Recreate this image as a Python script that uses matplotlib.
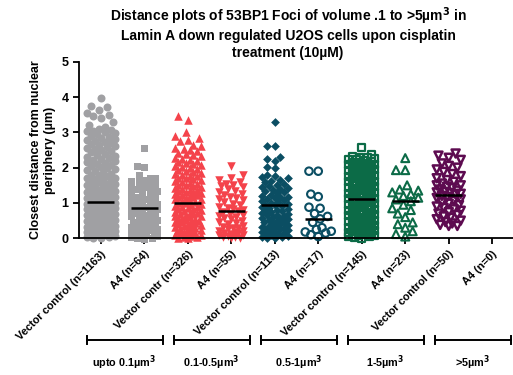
import matplotlib
matplotlib.use("Agg")
import matplotlib.pyplot as plt
import matplotlib.transforms as mtransforms
import numpy as np

plt.rcParams['font.family'] = ['Liberation Sans', 'DejaVu Sans']
plt.rcParams['font.weight'] = 'bold'

# closest distance to the nuclear periphery (um), one list per column
gray_vc = [0.0, 0.02, 0.04, 0.05, 0.07, 0.08, 0.1, 0.12, 0.13, 0.15, 0.17, 0.18, 0.2, 0.22,
           0.24, 0.26, 0.28, 0.3, 0.32, 0.33, 0.35, 0.37, 0.4, 0.42, 0.44, 0.45, 0.48, 0.5,
           0.52, 0.54, 0.55, 0.58, 0.6, 0.62, 0.64, 0.66, 0.68, 0.7, 0.72, 0.74, 0.75, 0.78,
           0.8, 0.83, 0.85, 0.86, 0.88, 0.9, 0.93, 0.95, 0.96, 0.98, 1.0, 1.03, 1.05, 1.06,
           1.08, 1.1, 1.13, 1.15, 1.17, 1.2, 1.22, 1.24, 1.26, 1.28, 1.3, 1.32, 1.34, 1.36,
           1.38, 1.4, 1.43, 1.45, 1.48, 1.5, 1.53, 1.55, 1.58, 1.6, 1.62, 1.65, 1.68, 1.7,
           1.72, 1.75, 1.78, 1.8, 1.83, 1.86, 1.9, 1.92, 1.95, 1.98, 2.01, 2.04, 2.07, 2.1,
           2.13, 2.16, 2.19, 2.22, 2.25, 2.28, 2.31, 2.34, 2.37, 2.4, 2.43, 2.46, 2.49, 2.52,
           2.55, 2.58, 2.61, 2.64, 2.67, 2.7, 2.73, 2.76, 2.79, 2.82, 2.85, 2.88, 2.91, 2.94,
           2.97, 3.0, 3.03, 3.05, 3.08, 3.1, 3.15, 3.2, 3.3, 3.4, 3.45, 3.5, 3.55, 3.62,
           3.72, 3.75, 3.97]
gray_a4 = [2.55, 2.05, 2.02, 1.8, 1.72, 1.7, 1.65, 1.62, 1.6, 1.55, 1.5, 1.45, 1.42, 1.4,
           1.38, 1.33, 1.3, 1.25, 1.2, 1.18, 1.15, 1.12, 1.08, 1.05, 1.0, 0.98, 0.95, 0.92,
           0.9, 0.88, 0.86, 0.84, 0.8, 0.78, 0.75, 0.72, 0.7, 0.66, 0.62, 0.6, 0.56, 0.52,
           0.5, 0.46, 0.42, 0.4, 0.36, 0.35, 0.33, 0.3, 0.27, 0.25, 0.24, 0.2, 0.18, 0.15,
           0.12, 0.1, 0.08, 0.06, 0.04, 0.02, 0.0, -0.03]
red_vc = [0.0, 0.02, 0.04, 0.05, 0.07, 0.08, 0.1, 0.12, 0.14, 0.16, 0.17, 0.2, 0.22, 0.24,
          0.26, 0.27, 0.3, 0.32, 0.34, 0.36, 0.38, 0.4, 0.41, 0.43, 0.45, 0.47, 0.48, 0.5,
          0.52, 0.54, 0.55, 0.57, 0.59, 0.62, 0.64, 0.66, 0.68, 0.7, 0.72, 0.73, 0.75, 0.77,
          0.8, 0.82, 0.84, 0.86, 0.88, 0.9, 0.92, 0.95, 0.97, 0.99, 1.01, 1.03, 1.05, 1.07,
          1.1, 1.12, 1.14, 1.16, 1.18, 1.2, 1.22, 1.24, 1.26, 1.28, 1.3, 1.32, 1.34, 1.36,
          1.38, 1.4, 1.43, 1.46, 1.48, 1.5, 1.52, 1.55, 1.57, 1.6, 1.62, 1.65, 1.67, 1.7,
          1.72, 1.75, 1.77, 1.8, 1.82, 1.85, 1.88, 1.9, 1.93, 1.96, 1.98, 2.01, 2.04, 2.07,
          2.1, 2.13, 2.16, 2.19, 2.22, 2.25, 2.28, 2.32, 2.35, 2.38, 2.42, 2.46, 2.5, 2.54,
          2.57, 2.62, 2.65, 2.75, 2.78, 2.85, 2.9, 3.02, 3.35, 3.45]
red_a4 = [2.05, 1.8, 1.72, 1.65, 1.6, 1.55, 1.5, 1.48, 1.45, 1.4, 1.35, 1.3, 1.25, 1.22,
          1.18, 1.15, 1.12, 1.08, 1.02, 0.98, 0.95, 0.9, 0.86, 0.82, 0.8, 0.78, 0.75, 0.7,
          0.66, 0.62, 0.6, 0.58, 0.55, 0.5, 0.46, 0.42, 0.4, 0.36, 0.32, 0.3, 0.28, 0.25,
          0.22, 0.2, 0.18, 0.15, 0.14, 0.12, 0.1, 0.08, 0.06, 0.05, 0.04, 0.02, 0.0]
teal_vc = [0.0, 0.02, 0.04, 0.05, 0.07, 0.09, 0.11, 0.13, 0.15, 0.17, 0.19, 0.21, 0.23, 0.25,
           0.27, 0.28, 0.3, 0.32, 0.34, 0.36, 0.38, 0.4, 0.43, 0.45, 0.47, 0.49, 0.52, 0.54,
           0.56, 0.58, 0.6, 0.63, 0.65, 0.67, 0.7, 0.72, 0.74, 0.76, 0.79, 0.81, 0.84, 0.86,
           0.88, 0.91, 0.93, 0.95, 0.98, 1.0, 1.03, 1.05, 1.08, 1.1, 1.13, 1.16, 1.18, 1.21,
           1.24, 1.27, 1.3, 1.33, 1.36, 1.39, 1.42, 1.45, 1.48, 1.52, 1.55, 1.58, 1.62, 1.66,
           1.7, 1.73, 1.76, 1.8, 1.99, 2.02, 2.2, 2.25, 2.3, 2.61, 2.62, 3.29]
teal_a4 = [1.9, 1.9, 1.25, 1.18, 0.88, 0.85, 0.7, 0.62, 0.55, 0.45, 0.3, 0.25, 0.2, 0.18,
           0.15, 0.1, 0.05]
green_vc = [0.0, 0.02, 0.04, 0.05, 0.07, 0.08, 0.1, 0.12, 0.14, 0.15, 0.17, 0.19, 0.21, 0.22,
            0.24, 0.26, 0.28, 0.3, 0.31, 0.33, 0.35, 0.37, 0.39, 0.41, 0.43, 0.45, 0.47,
            0.48, 0.5, 0.52, 0.54, 0.56, 0.58, 0.6, 0.62, 0.64, 0.66, 0.68, 0.7, 0.72, 0.74,
            0.76, 0.78, 0.8, 0.82, 0.84, 0.86, 0.88, 0.9, 0.92, 0.94, 0.96, 0.98, 1.0, 1.02,
            1.04, 1.06, 1.08, 1.1, 1.12, 1.14, 1.16, 1.18, 1.2, 1.22, 1.24, 1.26, 1.28, 1.3,
            1.32, 1.34, 1.36, 1.38, 1.4, 1.42, 1.44, 1.46, 1.48, 1.5, 1.52, 1.54, 1.56, 1.58,
            1.6, 1.62, 1.64, 1.66, 1.68, 1.7, 1.72, 1.74, 1.76, 1.78, 1.8, 1.82, 1.84, 1.86,
            1.88, 1.9, 1.92, 1.94, 1.96, 1.98, 2.0, 2.02, 2.04, 2.06, 2.08, 2.1, 2.12, 2.14,
            2.16, 2.18, 2.2, 2.22, 2.24, 2.26, 2.28, 2.3, 2.32, 2.36, 2.57]
green_a4 = [2.27, 1.93, 1.93, 1.5, 1.38, 1.35, 1.3, 1.25, 1.2, 1.15, 1.1, 1.05, 0.95, 0.85,
            0.8, 0.7, 0.6, 0.45, 0.4, 0.3, 0.2, 0.12, 0.05]
purple_vc = [2.4, 2.34, 2.28, 2.22, 2.12, 2.05, 2.0, 1.95, 1.88, 1.82, 1.76, 1.7, 1.65, 1.6,
             1.55, 1.5, 1.5, 1.46, 1.42, 1.38, 1.35, 1.31, 1.3, 1.28, 1.26, 1.24, 1.2, 1.17,
             1.14, 1.1, 1.06, 1.02, 0.98, 0.94, 0.9, 0.86, 0.82, 0.78, 0.74, 0.7, 0.66, 0.62,
             0.58, 0.54, 0.5, 0.46, 0.42, 0.38, 0.35, 0.35]
purple_a4 = []

columns = [gray_vc, gray_a4, red_vc, red_a4, teal_vc, teal_a4,
           green_vc, green_a4, purple_vc, purple_a4]
centres = [1.04, 0.86, 1.0, 0.78, 0.93, 0.56, 1.12, 1.07, 1.24, None]
tick_labels = ['Vector control (n=1163)', 'A4 (n=64)', 'Vector contr (n=326)', 'A4 (n=55)',
               'Vector control (n=113)', 'A4 (n=17)', 'Vector control (n=145)', 'A4 (n=23)',
               'Vector control (n=50)', 'A4 (n=0)']
group_labels = ['upto 0.1\u00b5m$^3$', '0.1-0.5\u00b5m$^3$', '0.5-1\u00b5m$^3$',
                '1-5\u00b5m$^3$', '>5\u00b5m$^3$']

gray, red, teal, green, purple = '#A0A0A3', '#F4434B', '#0B4E63', '#0C6B47', '#5D0B50'
# (colour, marker, size in px, hollow, half width of the column in px)
styles = [(gray, 'o', 8.0, False, 14), (gray, 's', 7.0, False, 13),
          (red, '^', 8.5, False, 13), (red, 'v', 8.5, False, 12),
          (teal, 'D', 6.2, False, 13), (teal, 'o', 7.5, True, 13),
          (green, 's', 7.0, True, 13), (green, '^', 8.0, True, 13),
          (purple, 'v', 8.0, True, 12), (purple, 'v', 8.0, True, 12)]
edge_lw = {'o': 1.5, 's': 1.6, '^': 1.5, 'v': 1.8}

fig = plt.figure(figsize=(5.13, 3.75), dpi=100)
ax = fig.add_axes([79 / 513, 136.7 / 375, 435 / 513, 176.6 / 375])
ax.set_xlim(-0.5, 9.5)
ax.set_ylim(0, 5)

bb = ax.get_position()
xpx = bb.width * 513 / 10.0   # px per x unit
ypx = bb.height * 375 / 5.0   # px per y unit


def column_layout(vals, pos, size_px, half_px):
    # greedy swarm: each point goes to the free slot nearest the centre,
    # or to the least crowded slot once the column is full
    v = np.sort(np.asarray(vals, float))
    slots = np.linspace(-half_px, half_px, 15)
    order = np.argsort(np.abs(slots), kind='stable')
    slots = slots[order]
    px_x, px_y = [], []
    for y in v * ypx:
        best, best_gap = slots[0], -1.0
        for sx in slots:
            if px_x:
                gap = np.min(np.hypot(np.array(px_x) - sx, np.array(px_y) - y))
            else:
                gap = np.inf
            if gap >= size_px:
                best = sx
                break
            if gap > best_gap + 1e-9:
                best, best_gap = sx, gap
        px_x.append(best)
        px_y.append(y)
    return pos + np.array(px_x) / xpx, v


for i, (vals, (col, mk, px, hollow, half)) in enumerate(zip(columns, styles)):
    if len(vals) == 0:
        continue
    xs, ys = column_layout(vals, i, px, half)
    ms = (px * 0.72) ** 2
    if hollow:
        ax.scatter(xs, ys, s=ms, marker=mk, facecolors='none', edgecolors=col,
                   linewidths=edge_lw[mk], clip_on=False, zorder=2)
    else:
        ax.scatter(xs, ys, s=ms, marker=mk, color=col, linewidths=0,
                   clip_on=False, zorder=2)
    if centres[i] is not None:
        ax.hlines(centres[i], i - 0.31, i + 0.31, color='black', lw=1.8, zorder=3)

for s in ['top', 'right']:
    ax.spines[s].set_visible(False)
for s in ['left', 'bottom']:
    ax.spines[s].set_linewidth(1.3)
ax.tick_params(width=1.3, length=4, labelsize=9)
ax.set_yticks(range(6))
ax.set_xticks(range(10))
ax.set_xticklabels(tick_labels, rotation=45, ha='right', va='top',
                   rotation_mode='anchor', fontsize=7.9)
ax.set_ylabel('Closest distance from nuclear\nperiphery (\u00b5m)', fontsize=9,
              fontweight='bold', labelpad=4)

fig.text(288 / 513, 0.985,
         'Distance plots of 53BP1 Foci of volume .1 to >5\u00b5m$^3$ in\n'
         'Lamin A down regulated U2OS cells upon cisplatin\ntreatment (10\u00b5M)',
         ha='center', va='top', fontsize=10, fontweight='bold', linespacing=1.2)

# size-range brackets under the pairs of columns
trans = mtransforms.blended_transform_factory(ax.transData, fig.transFigure)
for g, lab in enumerate(group_labels):
    x0, x1 = 2 * g - 0.32, 2 * g + 1.42
    y = 1 - 340 / 375
    ax.plot([x0, x1], [y, y], color='black', lw=1.4, transform=trans, clip_on=False)
    for xe in (x0, x1):
        ax.plot([xe, xe], [y - 0.011, y + 0.011], color='black', lw=1.4,
                transform=trans, clip_on=False)
    ax.text((x0 + x1) / 2, 1 - 363 / 375, lab, ha='center', va='center',
            fontsize=7.8, fontweight='bold', transform=trans)

fig.savefig('out.png', dpi=100)
